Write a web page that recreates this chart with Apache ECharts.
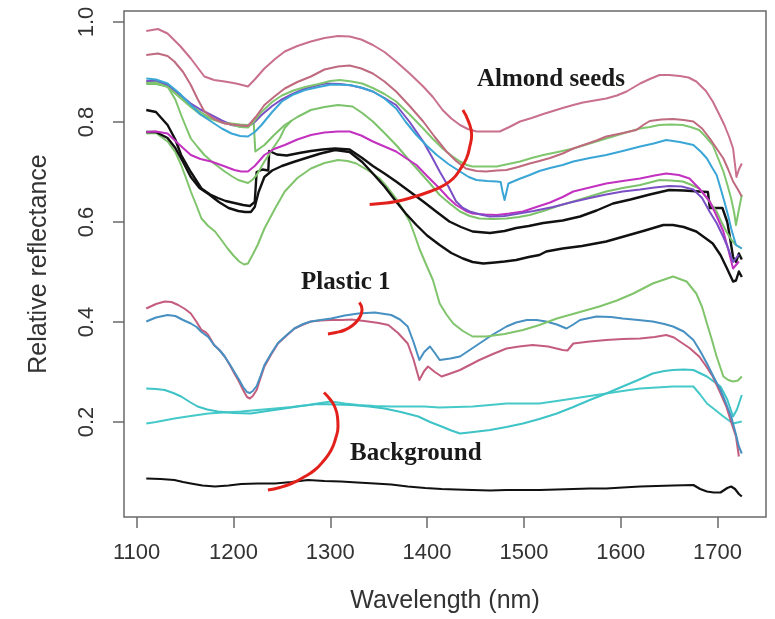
<!DOCTYPE html>
<html>
<head>
<meta charset="utf-8">
<script src="https://cdn.jsdelivr.net/npm/echarts@6/dist/echarts.min.js"></script>
<style>
html,body{margin:0;padding:0;background:#fff;}
#chart{width:775px;height:619px;}
</style>
</head>
<body>
<div id="chart"></div>
<script>
// ---- Tick values ----
var xTicks = [1100, 1200, 1300, 1400, 1500, 1600, 1700];
var yTicks = [0.2, 0.4, 0.6, 0.8, 1.0];

// ---- Almond seeds spectra [wavelength nm, reflectance] ----
var almondRose1 = [[1110,0.982],[1122,0.986],[1132,0.977],[1145,0.952],[1156,0.927],[1170,0.891],[1180,0.884],[1191,0.881],[1200,0.878],[1205,0.876],[1215,0.871],[1222,0.885],[1232,0.907],[1243,0.926],[1253,0.941],[1266,0.952],[1280,0.961],[1294,0.968],[1308,0.972],[1320,0.971],[1332,0.965],[1344,0.954],[1356,0.94],[1368,0.921],[1382,0.897],[1396,0.871],[1406,0.85],[1416,0.824],[1425,0.807],[1434,0.794],[1442,0.786],[1451,0.781],[1463,0.781],[1475,0.781],[1485,0.79],[1496,0.801],[1508,0.808],[1520,0.816],[1530,0.822],[1540,0.828],[1551,0.834],[1561,0.839],[1573,0.843],[1585,0.847],[1596,0.853],[1606,0.861],[1613,0.869],[1620,0.877],[1630,0.886],[1640,0.894],[1650,0.894],[1661,0.892],[1670,0.889],[1678,0.881],[1688,0.862],[1695,0.841],[1701,0.818],[1707,0.794],[1712,0.77],[1716,0.747],[1719.5,0.69],[1722,0.705],[1725,0.717]];
var almondRose2 = [[1110,0.934],[1122,0.937],[1132,0.932],[1139,0.921],[1148,0.9],[1156,0.874],[1163,0.846],[1170,0.821],[1180,0.806],[1191,0.797],[1203,0.794],[1215,0.792],[1223,0.81],[1232,0.834],[1243,0.852],[1253,0.867],[1266,0.88],[1280,0.891],[1294,0.905],[1308,0.911],[1320,0.913],[1332,0.907],[1344,0.897],[1356,0.881],[1368,0.861],[1382,0.832],[1396,0.801],[1408,0.77],[1420,0.741],[1430,0.722],[1440,0.707],[1451,0.702],[1461,0.701],[1472,0.703],[1482,0.704],[1494,0.71],[1506,0.717],[1516,0.722],[1527,0.728],[1540,0.737],[1551,0.747],[1563,0.755],[1575,0.763],[1585,0.771],[1600,0.777],[1616,0.784],[1624,0.795],[1630,0.802],[1642,0.805],[1654,0.806],[1665,0.804],[1675,0.801],[1684,0.787],[1692,0.767],[1699,0.747],[1706,0.727],[1711,0.705],[1716,0.681],[1721,0.665],[1725,0.651]];
var almondBlue = [[1110,0.887],[1120,0.885],[1132,0.877],[1144,0.858],[1156,0.834],[1166,0.815],[1177,0.801],[1188,0.787],[1198,0.777],[1207,0.772],[1215,0.771],[1222,0.78],[1229,0.794],[1240,0.82],[1250,0.841],[1262,0.855],[1274,0.864],[1288,0.87],[1301,0.875],[1320,0.874],[1332,0.869],[1344,0.861],[1356,0.847],[1368,0.827],[1378,0.8],[1389,0.774],[1400,0.752],[1410,0.734],[1422,0.716],[1434,0.701],[1443,0.69],[1451,0.684],[1462,0.682],[1472,0.681],[1476,0.68],[1478,0.66],[1480,0.644],[1482,0.66],[1484,0.677],[1495,0.686],[1506,0.694],[1516,0.702],[1527,0.708],[1540,0.714],[1551,0.721],[1568,0.728],[1585,0.734],[1602,0.742],[1620,0.751],[1634,0.757],[1647,0.764],[1661,0.76],[1675,0.754],[1683,0.74],[1689,0.727],[1694,0.71],[1699,0.694],[1703,0.668],[1707,0.641],[1711,0.612],[1714,0.587],[1719,0.554],[1725,0.547]];
var almondPurple = [[1110,0.882],[1120,0.882],[1132,0.874],[1144,0.856],[1156,0.837],[1166,0.825],[1177,0.814],[1188,0.803],[1198,0.794],[1207,0.791],[1215,0.791],[1222,0.8],[1229,0.814],[1240,0.832],[1249,0.844],[1261,0.856],[1273,0.866],[1284,0.872],[1294,0.877],[1310,0.876],[1322,0.873],[1333,0.868],[1344,0.861],[1356,0.848],[1368,0.834],[1382,0.8],[1396,0.761],[1405,0.73],[1413,0.701],[1422,0.671],[1430,0.641],[1437,0.628],[1444,0.621],[1455,0.615],[1465,0.611],[1480,0.612],[1495,0.617],[1510,0.622],[1530,0.63],[1550,0.64],[1568,0.648],[1585,0.655],[1602,0.661],[1620,0.665],[1635,0.669],[1650,0.672],[1663,0.671],[1675,0.665],[1684,0.648],[1692,0.62],[1699,0.598],[1706,0.57],[1711,0.547],[1716,0.52],[1722,0.535]];
var almondMagenta = [[1110,0.78],[1120,0.781],[1132,0.777],[1144,0.755],[1156,0.734],[1166,0.726],[1177,0.721],[1190,0.712],[1201,0.704],[1208,0.701],[1215,0.701],[1222,0.712],[1232,0.734],[1242,0.746],[1253,0.754],[1266,0.765],[1280,0.774],[1294,0.779],[1308,0.781],[1320,0.781],[1332,0.773],[1344,0.761],[1356,0.751],[1368,0.741],[1378,0.728],[1389,0.714],[1400,0.692],[1413,0.667],[1422,0.648],[1430,0.634],[1440,0.622],[1447,0.617],[1460,0.615],[1472,0.614],[1485,0.617],[1499,0.621],[1516,0.632],[1527,0.639],[1540,0.65],[1551,0.661],[1568,0.669],[1585,0.677],[1602,0.682],[1620,0.687],[1635,0.693],[1647,0.697],[1660,0.694],[1671,0.687],[1682,0.665],[1692,0.641],[1699,0.612],[1706,0.581],[1711,0.545],[1716,0.507],[1722,0.521]];
var almondGreenTop = [[1110,0.878],[1120,0.879],[1132,0.87],[1144,0.85],[1156,0.83],[1166,0.815],[1177,0.806],[1188,0.799],[1198,0.795],[1207,0.79],[1215,0.789],[1222,0.803],[1229,0.82],[1240,0.84],[1250,0.853],[1262,0.863],[1274,0.87],[1288,0.876],[1300,0.882],[1310,0.884],[1322,0.881],[1333,0.877],[1344,0.868],[1356,0.856],[1368,0.841],[1382,0.815],[1396,0.787],[1406,0.766],[1416,0.747],[1425,0.733],[1434,0.721],[1441,0.714],[1447,0.711],[1460,0.711],[1472,0.711],[1484,0.716],[1496,0.721],[1508,0.728],[1520,0.734],[1535,0.74],[1551,0.747],[1568,0.757],[1585,0.767],[1602,0.777],[1620,0.787],[1630,0.79],[1640,0.794],[1652,0.795],[1664,0.794],[1672,0.79],[1681,0.784],[1688,0.77],[1695,0.754],[1700,0.73],[1706,0.701],[1710,0.675],[1714,0.647],[1717,0.62],[1719,0.594],[1722,0.625],[1725,0.654]];
var almondGreenMid = [[1110,0.876],[1120,0.876],[1132,0.871],[1144,0.853],[1156,0.834],[1166,0.82],[1177,0.807],[1188,0.8],[1198,0.797],[1207,0.795],[1215,0.794],[1221,0.797],[1222.6,0.741],[1232,0.754],[1242,0.774],[1253,0.794],[1266,0.81],[1280,0.824],[1294,0.83],[1308,0.834],[1323,0.831],[1333,0.818],[1344,0.801],[1356,0.778],[1368,0.754],[1380,0.727],[1392,0.701],[1403,0.677],[1413,0.654],[1424,0.636],[1434,0.621],[1444,0.612],[1454,0.607],[1468,0.606],[1482,0.607],[1495,0.61],[1506,0.614],[1520,0.622],[1535,0.632],[1551,0.641],[1568,0.651],[1585,0.661],[1602,0.668],[1620,0.674],[1630,0.679],[1640,0.684],[1652,0.683],[1664,0.681],[1672,0.675],[1681,0.667],[1690,0.645],[1699,0.621],[1704,0.6],[1709,0.581],[1714,0.565],[1719,0.554],[1725,0.547]];
var almondGreenDip = [[1110,0.878],[1120,0.877],[1132,0.871],[1140,0.845],[1146,0.814],[1151,0.79],[1156,0.767],[1163,0.75],[1170,0.734],[1180,0.717],[1191,0.701],[1198,0.692],[1205,0.684],[1215,0.678],[1220,0.685],[1224,0.694],[1232,0.721],[1240,0.745],[1248,0.768],[1253,0.788],[1260,0.803]];
var almondGreenLow = [[1110,0.777],[1120,0.778],[1132,0.761],[1140,0.74],[1146,0.714],[1151,0.688],[1156,0.661],[1162,0.632],[1167,0.607],[1174,0.592],[1181,0.581],[1188,0.563],[1194,0.547],[1200,0.533],[1206,0.521],[1211,0.515],[1215,0.517],[1220,0.535],[1225,0.554],[1232,0.587],[1243,0.627],[1253,0.661],[1266,0.688],[1280,0.707],[1294,0.718],[1308,0.724],[1318,0.722],[1327,0.717],[1340,0.702],[1351,0.687],[1360,0.667],[1368,0.647],[1375,0.625],[1382,0.601],[1387,0.575],[1392,0.547],[1399,0.515],[1406,0.484],[1413,0.437],[1420,0.415],[1427,0.397],[1437,0.382],[1447,0.371],[1461,0.371],[1480,0.376],[1499,0.384],[1516,0.394],[1534,0.407],[1556,0.419],[1578,0.431],[1596,0.443],[1613,0.457],[1633,0.477],[1654,0.491],[1668,0.481],[1678,0.457],[1684,0.43],[1689,0.397],[1694,0.365],[1699,0.331],[1706,0.291],[1711,0.284],[1716,0.281],[1721,0.283],[1725,0.291]];
var almondBlack1 = [[1110,0.824],[1120,0.82],[1132,0.794],[1140,0.765],[1146,0.734],[1156,0.7],[1167,0.667],[1176,0.655],[1184,0.648],[1192,0.642],[1201,0.638],[1210,0.634],[1217,0.632],[1222,0.64],[1224,0.7],[1230,0.705],[1236,0.703],[1237,0.742],[1245,0.735],[1255,0.733],[1268,0.738],[1280,0.742],[1292,0.745],[1305,0.747],[1320,0.745],[1333,0.728],[1344,0.712],[1356,0.697],[1368,0.681],[1382,0.661],[1396,0.641],[1410,0.62],[1423,0.601],[1435,0.59],[1447,0.581],[1465,0.578],[1480,0.582],[1492,0.588],[1505,0.592],[1520,0.598],[1540,0.603],[1558,0.611],[1575,0.623],[1592,0.637],[1610,0.645],[1630,0.655],[1650,0.664],[1665,0.663],[1681,0.661],[1690,0.66],[1692,0.628],[1705,0.628],[1710,0.6],[1712,0.578],[1716,0.53],[1719,0.52],[1722,0.537],[1725,0.525]];
var almondBlack2 = [[1110,0.78],[1120,0.78],[1132,0.768],[1140,0.748],[1148,0.72],[1156,0.69],[1165,0.668],[1175,0.655],[1185,0.64],[1195,0.628],[1205,0.622],[1212,0.62],[1218,0.62],[1222,0.63],[1226,0.66],[1232,0.69],[1240,0.703],[1250,0.712],[1262,0.72],[1275,0.728],[1290,0.737],[1305,0.744],[1320,0.74],[1333,0.72],[1344,0.697],[1356,0.671],[1368,0.641],[1378,0.617],[1389,0.594],[1400,0.573],[1413,0.554],[1425,0.538],[1437,0.527],[1447,0.52],[1458,0.517],[1470,0.519],[1480,0.521],[1492,0.524],[1505,0.53],[1516,0.534],[1523,0.541],[1540,0.547],[1560,0.552],[1585,0.561],[1605,0.572],[1625,0.583],[1644,0.594],[1654,0.594],[1665,0.59],[1678,0.581],[1688,0.567],[1695,0.557],[1703,0.534],[1709,0.51],[1716,0.481],[1719,0.483],[1722,0.501],[1725,0.49]];

// ---- Plastic 1 spectra ----
var plasticPink = [[1110,0.427],[1120,0.436],[1129,0.441],[1136,0.44],[1143,0.434],[1150,0.426],[1156,0.417],[1162,0.4],[1167,0.384],[1171,0.38],[1174,0.374],[1180,0.354],[1186,0.343],[1191,0.331],[1196,0.315],[1201,0.297],[1206,0.28],[1210,0.264],[1214,0.25],[1217,0.247],[1220,0.252],[1224,0.264],[1228,0.288],[1232,0.311],[1239,0.335],[1246,0.357],[1255,0.373],[1263,0.387],[1272,0.395],[1280,0.401],[1290,0.403],[1301,0.404],[1312,0.404],[1322,0.405],[1331,0.403],[1339,0.401],[1350,0.398],[1360,0.394],[1370,0.378],[1380,0.357],[1386,0.325],[1392,0.284],[1397,0.302],[1401,0.311],[1408,0.3],[1415,0.291],[1424,0.297],[1434,0.304],[1444,0.314],[1454,0.324],[1468,0.336],[1482,0.347],[1495,0.351],[1509,0.354],[1525,0.351],[1540,0.344],[1545,0.343],[1551,0.357],[1568,0.361],[1585,0.364],[1602,0.366],[1620,0.367],[1635,0.37],[1647,0.374],[1655,0.369],[1661,0.361],[1671,0.348],[1681,0.331],[1688,0.312],[1695,0.291],[1702,0.262],[1709,0.231],[1714,0.2],[1719,0.171],[1722,0.131]];
var plasticBlue = [[1110,0.401],[1120,0.409],[1132,0.414],[1140,0.412],[1148,0.404],[1156,0.397],[1162,0.39],[1167,0.38],[1174,0.37],[1180,0.354],[1186,0.343],[1191,0.331],[1196,0.316],[1201,0.3],[1206,0.284],[1210,0.27],[1214,0.26],[1217,0.258],[1220,0.262],[1224,0.272],[1228,0.292],[1232,0.314],[1239,0.337],[1246,0.358],[1255,0.374],[1263,0.387],[1272,0.396],[1280,0.401],[1290,0.404],[1301,0.407],[1315,0.413],[1329,0.417],[1346,0.419],[1363,0.414],[1372,0.405],[1380,0.391],[1386,0.36],[1392,0.324],[1397,0.34],[1403,0.351],[1408,0.338],[1413,0.324],[1424,0.327],[1434,0.331],[1444,0.344],[1454,0.357],[1468,0.375],[1482,0.391],[1492,0.399],[1503,0.404],[1513,0.404],[1523,0.401],[1534,0.395],[1544,0.387],[1551,0.395],[1558,0.404],[1575,0.411],[1590,0.41],[1602,0.407],[1618,0.404],[1633,0.401],[1645,0.396],[1654,0.391],[1665,0.381],[1675,0.364],[1682,0.342],[1689,0.317],[1696,0.29],[1703,0.264],[1709,0.236],[1714,0.211],[1719,0.175],[1722,0.151],[1725,0.137]];

// ---- Background spectra ----
var bgCyan1 = [[1110,0.267],[1120,0.266],[1129,0.264],[1138,0.258],[1146,0.251],[1155,0.24],[1163,0.231],[1173,0.225],[1184,0.221],[1200,0.218],[1218,0.217],[1235,0.222],[1253,0.227],[1270,0.232],[1287,0.236],[1305,0.235],[1322,0.234],[1340,0.231],[1356,0.227],[1373,0.22],[1391,0.211],[1403,0.2],[1415,0.191],[1425,0.183],[1434,0.177],[1448,0.18],[1465,0.184],[1482,0.19],[1499,0.197],[1516,0.206],[1534,0.217],[1551,0.23],[1568,0.244],[1585,0.257],[1602,0.271],[1618,0.284],[1633,0.297],[1645,0.302],[1654,0.304],[1665,0.305],[1675,0.304],[1689,0.291],[1703,0.271],[1710,0.245],[1716,0.211],[1720,0.225],[1725,0.254]];
var bgCyan2 = [[1110,0.197],[1120,0.2],[1139,0.207],[1156,0.212],[1174,0.217],[1190,0.219],[1208,0.221],[1225,0.224],[1243,0.227],[1260,0.23],[1277,0.234],[1290,0.238],[1301,0.241],[1315,0.237],[1329,0.234],[1346,0.232],[1363,0.231],[1380,0.231],[1397,0.231],[1413,0.229],[1430,0.23],[1447,0.231],[1465,0.234],[1482,0.237],[1499,0.237],[1516,0.237],[1534,0.242],[1551,0.247],[1568,0.252],[1585,0.257],[1602,0.262],[1620,0.267],[1637,0.269],[1654,0.271],[1665,0.271],[1675,0.271],[1682,0.255],[1689,0.237],[1697,0.225],[1706,0.211],[1716,0.197],[1725,0.201]];
var bgBlack = [[1110,0.087],[1125,0.086],[1139,0.084],[1148,0.08],[1156,0.077],[1168,0.073],[1181,0.071],[1195,0.073],[1208,0.076],[1225,0.077],[1243,0.077],[1260,0.08],[1277,0.084],[1294,0.082],[1311,0.081],[1328,0.079],[1346,0.077],[1363,0.075],[1380,0.071],[1398,0.068],[1415,0.066],[1430,0.065],[1447,0.064],[1465,0.063],[1482,0.064],[1499,0.064],[1516,0.064],[1534,0.065],[1551,0.066],[1568,0.067],[1585,0.067],[1602,0.069],[1620,0.071],[1637,0.072],[1654,0.073],[1675,0.074],[1682,0.066],[1689,0.061],[1696,0.059],[1703,0.059],[1710,0.068],[1714,0.071],[1718,0.066],[1722,0.056],[1725,0.051]];

// ---- Red annotation brackets (data coordinates) ----
var arcAlmond = [[1437,0.824],[1443,0.8],[1446,0.774],[1444,0.75],[1440.6,0.727],[1434,0.705],[1427,0.687],[1416,0.672],[1403,0.661],[1386,0.65],[1368,0.641],[1352,0.637],[1340.7,0.635]];
var arcPlastic = [[1297.6,0.376],[1306,0.379],[1315,0.384],[1323,0.393],[1328.6,0.404],[1332,0.416],[1332.8,0.426],[1330,0.439]];
var arcBackground = [[1293.5,0.259],[1300,0.245],[1304.5,0.231],[1307.5,0.21],[1308,0.191],[1305.5,0.167],[1301,0.144],[1293,0.122],[1284,0.104],[1272,0.089],[1260,0.077],[1248,0.069],[1235.6,0.064]];

// ---- Group labels ----
var groupLabels = ['Almond seeds', 'Plastic 1', 'Background'];

var chart = echarts.init(document.getElementById('chart'), null, {renderer: 'canvas'});

function line(data, color, width, z, smooth) {
  return {
    type: 'line', data: data, showSymbol: false, symbol: 'none', smooth: !!smooth,
    animation: false, silent: true, z: z || 2,
    lineStyle: {color: color, width: width || 2, join: 'round'}
  };
}

var sansFont = '"Liberation Sans", Arial, sans-serif';
var serifFont = '"Liberation Serif", "Times New Roman", serif';

var option = {
  backgroundColor: '#ffffff',
  animation: false,
  grid: {left: 124, right: 9, top: 11, bottom: 102, show: true, borderColor: '#6a6a6a', borderWidth: 1.5, backgroundColor: 'transparent'},
  xAxis: {
    type: 'value', min: 1087, max: 1750,
    name: 'Wavelength (nm)', nameLocation: 'middle', nameGap: 72,
    nameTextStyle: {fontFamily: sansFont, fontSize: 25, color: '#333'},
    axisLine: {show: false},
    splitLine: {show: false},
    axisTick: {show: true, length: 11, customValues: xTicks, lineStyle: {color: '#6a6a6a', width: 1.5}},
    axisLabel: {customValues: xTicks, margin: 25, fontFamily: sansFont, fontSize: 22, color: '#333',
      formatter: function (v) { return String(Math.round(v)); }}
  },
  yAxis: {
    type: 'value', min: 0.01, max: 1.022,
    name: 'Relative reflectance', nameLocation: 'middle', nameGap: 72, nameRotate: 90,
    nameTextStyle: {fontFamily: sansFont, fontSize: 25, color: '#333'},
    axisLine: {show: false},
    splitLine: {show: false},
    axisTick: {show: true, length: 11, customValues: yTicks, lineStyle: {color: '#6a6a6a', width: 1.5}},
    axisLabel: {customValues: yTicks, rotate: 90, margin: 26, fontFamily: sansFont, fontSize: 22, color: '#333',
      formatter: function (v) { return v.toFixed(1); }}
  },
  graphic: [
    {type: 'text', left: 477, top: 67, z: 10, style: {text: groupLabels[0], font: 'bold 25px ' + serifFont, fill: '#1a1a1a'}},
    {type: 'text', left: 301, top: 270, z: 10, style: {text: groupLabels[1], font: 'bold 25px ' + serifFont, fill: '#1a1a1a'}},
    {type: 'text', left: 350, top: 441, z: 10, style: {text: groupLabels[2], font: 'bold 25px ' + serifFont, fill: '#1a1a1a'}}
  ],
  series: [
    line(bgBlack, '#111111', 2.2),
    line(bgCyan2, '#46c9c9', 2),
    line(bgCyan1, '#3ec3c6', 2),
    line(plasticPink, '#c45d7d', 2),
    line(plasticBlue, '#4690c2', 2),
    line(almondGreenLow, '#80c46c', 2),
    line(almondBlack2, '#111111', 2.4),
    line(almondBlack1, '#111111', 2.4),
    line(almondGreenDip, '#7fc46c', 2),
    line(almondGreenMid, '#7cc26a', 2),
    line(almondMagenta, '#c331c0', 2),
    line(almondPurple, '#7a4fc6', 2),
    line(almondGreenTop, '#80c66e', 2),
    line(almondBlue, '#3aa6d6', 2),
    line(almondRose2, '#bf6a7e', 2),
    line(almondRose1, '#c9708c', 2),
    line(arcAlmond, '#e3211c', 3, 5, true),
    line(arcPlastic, '#e3211c', 3, 5, true),
    line(arcBackground, '#e3211c', 3, 5, true)
  ]
};
chart.setOption(option);
</script>
</body>
</html>
